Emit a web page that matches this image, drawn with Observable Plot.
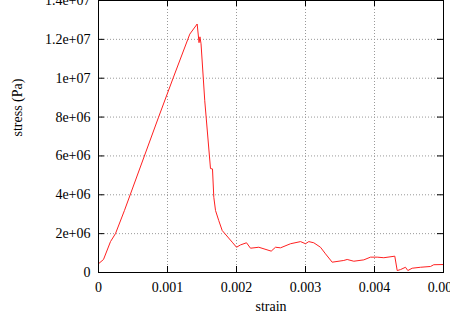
<!DOCTYPE html>
<html><head><meta charset="utf-8">
<script src="https://cdn.jsdelivr.net/npm/d3@7"></script>
<script src="https://cdn.jsdelivr.net/npm/@observablehq/plot@0.6"></script>
<style>body{margin:0;background:#fff}</style>
</head><body>
<div id="chart"></div>
<script>
const strain = [0, 0.0000725, 0.000174, 0.000246, 0.000377, 0.000867, 0.001087, 0.001323, 0.00143, 0.001457, 0.00147, 0.001486, 0.00154, 0.001623, 0.001652, 0.001671, 0.001696, 0.001743, 0.001793, 0.001938, 0.002, 0.002058, 0.002145, 0.002203, 0.002323, 0.002503, 0.002565, 0.002638, 0.002783, 0.002928, 0.003, 0.003048, 0.00312, 0.003217, 0.00329, 0.003387, 0.003555, 0.003604, 0.0037, 0.003845, 0.003942, 0.004039, 0.004135, 0.004294, 0.004329, 0.004377, 0.004449, 0.004483, 0.004546, 0.004667, 0.004812, 0.004859, 0.005];
const stress = [0.45e6, 0.67e6, 1.59e6, 2.0e6, 3.2e6, 7.96e6, 10.06e6, 12.27e6, 12.79e6, 11.83e6, 12.13e6, 11.77e6, 8.84e6, 5.35e6, 5.33e6, 3.87e6, 3.19e6, 2.67e6, 2.16e6, 1.56e6, 1.30e6, 1.42e6, 1.53e6, 1.25e6, 1.30e6, 1.10e6, 1.30e6, 1.27e6, 1.48e6, 1.59e6, 1.48e6, 1.59e6, 1.53e6, 1.30e6, 0.96e6, 0.53e6, 0.62e6, 0.67e6, 0.58e6, 0.65e6, 0.79e6, 0.79e6, 0.76e6, 0.84e6, 0.10e6, 0.15e6, 0.27e6, 0.10e6, 0.22e6, 0.27e6, 0.31e6, 0.40e6, 0.41e6];
const xTicks = [0, 0.001, 0.002, 0.003, 0.004, 0.005];
const xTickLabels = ["0", "0.001", "0.002", "0.003", "0.004", "0.005"];
const yTicks = [0, 2e6, 4e6, 6e6, 8e6, 1e7, 1.2e7, 1.4e7];
const yTickLabels = ["0", "2e+06", "4e+06", "6e+06", "8e+06", "1e+07", "1.2e+07", "1.4e+07"];
const xLabel = "strain";
const yLabel = "stress (Pa)";

const data = strain.map((s, i) => ({strain: s, stress: stress[i]}));
const W = 450, H = 316, mL = 98, mR = 7, mT = 0, mB = 44;
const pw = W - mL - mR, ph = H - mT - mB, tl = 6;
const font = "Liberation Serif";

const chart = Plot.plot({
  width: W, height: H,
  marginLeft: mL, marginRight: mR, marginTop: mT, marginBottom: mB,
  style: {fontSize: "14px", color: "#000", background: "#fff"},
  x: {domain: [0, 0.005]},
  y: {domain: [0, 1.4e7]},
  marks: [
    Plot.gridX(xTicks.slice(1, -1), {stroke: "#999", strokeOpacity: 1, strokeDasharray: "1,2"}),
    Plot.gridY(yTicks.slice(1, -1), {stroke: "#999", strokeOpacity: 1, strokeDasharray: "1,2"}),
    Plot.line(data, {x: "strain", y: "stress", stroke: "#ff2020", strokeWidth: 1}),
    Plot.tickX(xTicks, {x: d => d, insetTop: ph - tl, stroke: "#000"}),
    Plot.tickX(xTicks, {x: d => d, insetBottom: ph - tl, stroke: "#000"}),
    Plot.tickY(yTicks, {y: d => d, insetRight: pw - tl, stroke: "#000"}),
    Plot.tickY(yTicks, {y: d => d, insetLeft: pw - tl, stroke: "#000"}),
    Plot.frame({stroke: "#000"}),
    Plot.axisX(xTicks, {tickSize: 0, tickPadding: 10, tickFormat: (d, i) => xTickLabels[i], label: null, fontSize: 14}),
    Plot.axisY(yTicks, {tickSize: 0, tickPadding: 8, tickFormat: (d, i) => yTickLabels[i], label: null, fontSize: 14}),
    Plot.text([xLabel], {frameAnchor: "bottom", dy: 38, text: d => d, fontSize: 14}),
    Plot.text([yLabel], {frameAnchor: "left", dx: -81, rotate: -90, text: d => d, fontSize: 14})
  ]
});
chart.querySelectorAll("text").forEach(t => t.setAttribute("font-family", font));
chart.style.fontFamily = "'Liberation Serif', 'DejaVu Serif', serif";
document.getElementById("chart").appendChild(chart);
</script>
</body></html>
